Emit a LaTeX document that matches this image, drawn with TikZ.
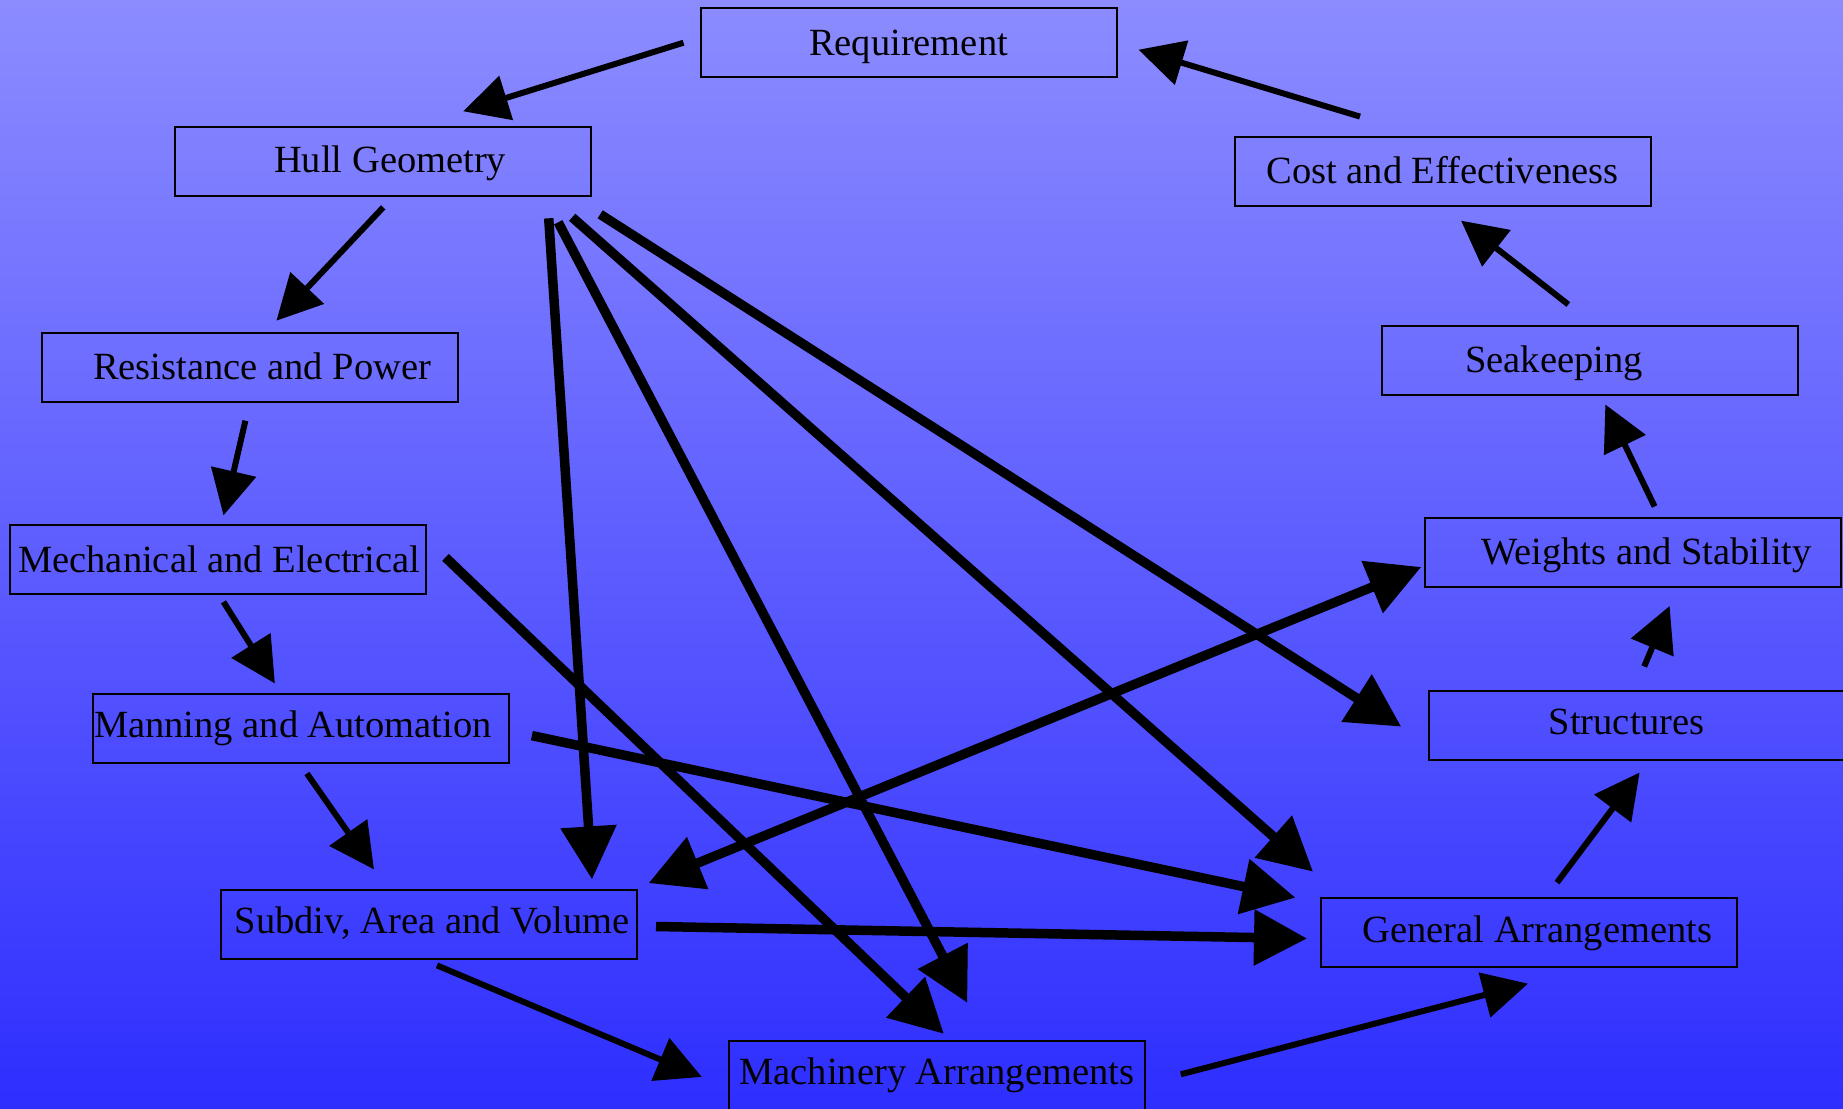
\documentclass[tikz,border=0pt]{standalone}
\usepackage{fontspec}
\setmainfont{Liberation Serif}
\usetikzlibrary{arrows.meta}

\definecolor{bgtop}{RGB}{140,140,255}
\definecolor{bgbot}{RGB}{46,46,255}

\tikzset{
    box/.style={draw, line width=2pt, minimum width=416pt, minimum height=69pt, inner sep=0pt},
    boxtext/.style={font=\fontsize{38.5}{46}\selectfont, text height=25.5pt, text depth=0pt, inner sep=0pt},
    cyc/.style={every edge/.style={draw, line width=6pt, -{Triangle[length=45pt,width=45pt]}}},
    fan/.style={every edge/.style={draw, line width=9.5pt, -{Triangle[length=53pt,width=54pt]}}},
    twohead/.style={arrows={Triangle[length=53pt,width=54pt]-Triangle[length=53pt,width=54pt]}},
}

\begin{document}
\begin{tikzpicture}[x=1pt, y=-1pt]
\useasboundingbox (0,0) rectangle (1843,1108);
\shade[top color=bgtop, bottom color=bgbot] (0,0) rectangle (1843,1108);

% stages of the design spiral
\node[box, label={[boxtext]center:Requirement}] (req) at (908.5,42.7) {};
\node[box, label={[boxtext, xshift=7pt, yshift=2.3pt]center:Hull Geometry}] (hull) at (383.2,161.8) {};
\node[box, label={[boxtext]center:Cost and Effectiveness}] (cost) at (1442.5,171.1) {};
\node[box, label={[boxtext, xshift=11.7pt]center:Resistance and Power}] (res) at (250.4,367.2) {};
\node[box, label={[boxtext, xshift=-36.4pt]center:Seakeeping}] (seak) at (1590.3,360) {};
\node[box, label={[boxtext, xshift=1.7pt]center:Mechanical and Electrical}] (mech) at (217.5,559.9) {};
\node[box, label={[boxtext, xshift=14pt]center:Weights and Stability}] (wts) at (1632.6,552) {};
\node[box, label={[boxtext, xshift=-8pt, yshift=3.5pt]center:Manning and Automation}] (man) at (300.9,728) {};
\node[box, label={[boxtext, xshift=-10.4pt, yshift=3.5pt]center:Structures}] (struct) at (1637.2,725) {};
\node[box, label={[boxtext, xshift=3pt, yshift=4.5pt]center:Subdiv, Area and Volume}] (sub) at (429,924.9) {};
\node[box, label={[boxtext, xshift=8.4pt, yshift=2.3pt]center:General Arrangements}] (gen) at (1529,932.1) {};
\node[box, label={[boxtext, yshift=3.5pt]center:Machinery Arrangements}] (mach) at (936.8,1075.3) {};

% the spiral itself
\path[cyc]
    ([shift={(-16,0)}]req.west) edge ([shift={(80,-15)}]hull.north)
    ([shift={(0,10)}]hull.south) edge ([shift={(26,-11)}]res.north)
    ([shift={(-5,18)}]res.south) edge ([shift={(6,-9)}]mech.north)
    ([shift={(6,6.5)}]mech.south) edge ([shift={(-26,-9)}]man.north)
    ([shift={(6,10)}]man.south) edge ([shift={(-55,-20)}]sub.north)
    ([shift={(8,5)}]sub.south) edge ([shift={(-26,1.6)}]mach.west)
    ([shift={(35,-1)}]mach.east) edge ([shift={(-1,16)}]gen.south)
    ([shift={(28,-14)}]gen.north) edge ([shift={(2.4,12)}]struct.south)
    ([shift={(7,-23)}]struct.north) edge ([shift={(37,18.5)}]wts.south)
    ([shift={(22,-10)}]wts.north) edge ([shift={(15,9)}]seak.south)
    ([shift={(-22,-20)}]seak.north) edge ([shift={(18.5,14)}]cost.south)
    ([shift={(-82.5,-19)}]cost.north) edge ([shift={(21,7)}]req.east)
;

% cross links
\path[fan]
    ([shift={(-43.5,21)}]hull.south east) edge ([shift={(-46,-10)}]sub.north east)
    ([shift={(-34,25)}]hull.south east) edge ([shift={(30.5,-37)}]mach.north)
    ([shift={(-20,20)}]hull.south east) edge ([shift={(-7,-25)}]gen.north west)
    ([shift={(8,17)}]hull.south east) edge ([shift={(-27,1.6)}]struct.west)
    ([shift={(19,-2.5)}]mech.east) edge ([shift={(7,-6)}]mach.north)
    ([shift={(22,7.6)}]man.east) edge ([shift={(-24.6,1)}]gen.north west)
    ([shift={(18,1.6)}]sub.east) edge ([shift={(-13,6.4)}]gen.west)
    ([shift={(10.6,-6.3)}]sub.north east) edge[twohead] ([shift={(-2.4,15)}]wts.west)
;
\end{tikzpicture}
\end{document}
